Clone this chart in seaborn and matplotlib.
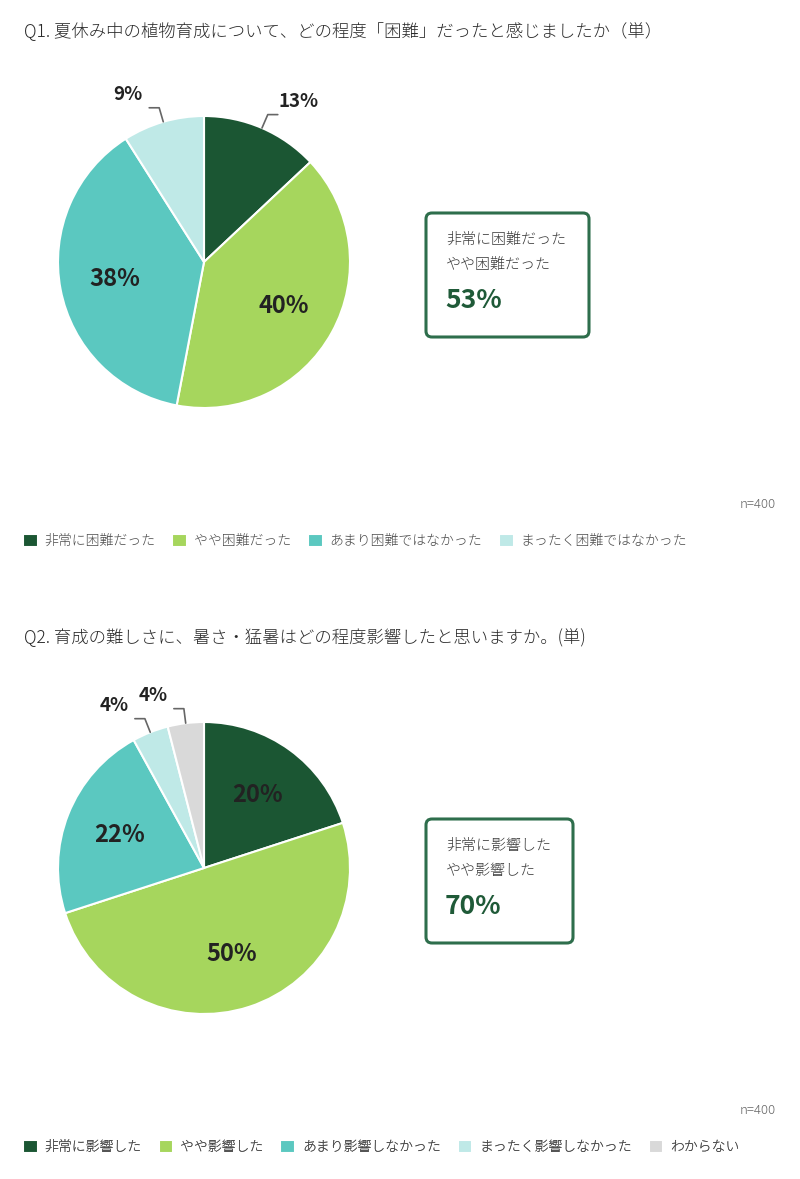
import seaborn as sns
import matplotlib.pyplot as plt
from matplotlib.patches import FancyBboxPatch
import numpy as np

# data
q1_title = "Q1. 夏休み中の植物育成について、どの程度「困難」だったと感じましたか（単）"
q1_labels = ["非常に困難だった", "やや困難だった", "あまり困難ではなかった", "まったく困難ではなかった"]
q1_values = [13, 40, 38, 9]
q1_box_lines = ["非常に困難だった", "やや困難だった"]
q1_box_value = "53%"

q2_title = "Q2. 育成の難しさに、暑さ・猛暑はどの程度影響したと思いますか。(単)"
q2_labels = ["非常に影響した", "やや影響した", "あまり影響しなかった", "まったく影響しなかった", "わからない"]
q2_values = [20, 50, 22, 4, 4]
q2_box_lines = ["非常に影響した", "やや影響した"]
q2_box_value = "70%"

n_text = "n=400"

colors = ["#1b5633", "#a6d65d", "#5bc8c0", "#bfe9e7", "#d9d9d9"]

sns.set_theme(style="white")
plt.rcParams['font.family'] = ['Noto Sans CJK JP', 'DejaVu Sans']

W, H = 800, 1179
fig = plt.figure(figsize=(8, 11.79), dpi=100)
ax = fig.add_axes([0, 0, 1, 1])


def draw_block(top, title, labels, values, box_lines, box_value, box_w, ncol):
    # top = pixel offset of this block
    ax.text(24, H - (top + 32), title, fontsize=12.5, color="#2a2a2a", va="center",
            ha="left", fontweight="light")

    cx, cy, r = 204, H - (top + 262), 146
    wedges, _ = ax.pie(values, colors=colors[:len(values)], startangle=90, counterclock=False,
                       radius=r, center=(cx, cy),
                       wedgeprops=dict(edgecolor="white", linewidth=1.5))

    for w, v in zip(wedges, values):
        th = np.deg2rad((w.theta1 + w.theta2) / 2)
        c, s = np.cos(th), np.sin(th)
        if v >= 15:
            ax.text(cx + 0.62 * r * c, cy + 0.62 * r * s, f"{v}%", fontsize=17,
                    fontweight="bold", color="#222222", ha="center", va="center")
        else:
            side = 1 if c > 0 else -1
            p0 = (cx + r * c, cy + r * s)
            p1 = (cx + 1.1 * r * c, cy + 1.1 * r * s)
            p2 = (p1[0] + side * 10, p1[1])
            ax.plot([p0[0], p1[0], p2[0]], [p0[1], p1[1], p2[1]], color="#666666", lw=1.2)
            ax.text(p2[0] + side * 21, p2[1] + 13, f"{v}%", fontsize=13.5,
                    fontweight="bold", color="#222222", ha="center", va="center")

    # summary box
    bx, by, bh = 426, top + 213, 124
    box = FancyBboxPatch((bx, H - (by + bh)), box_w, bh,
                         boxstyle="round,pad=0,rounding_size=6",
                         facecolor="white", edgecolor="#2e6e4c", lw=2.2)
    ax.add_patch(box)
    ax.text(bx + 20, H - (by + 27), box_lines[0], fontsize=10.8, color="#3a3a3a",
            va="center", fontweight="light")
    ax.text(bx + 20, H - (by + 52), box_lines[1], fontsize=10.8, color="#3a3a3a",
            va="center", fontweight="light")
    ax.text(bx + 19, H - (by + 88), box_value, fontsize=19, fontweight="bold",
            color="#1f5a38", va="center")

    ax.text(776, H - (top + 505), n_text, fontsize=9.5, color="#666666", ha="right",
            va="center", fontweight="light")

    leg = ax.legend(wedges, labels, loc="center left", bbox_to_anchor=(23, H - (top + 541)),
                    bbox_transform=ax.transData, ncol=ncol, frameon=False,
                    prop=dict(size=10, weight="light"),
                    handlelength=1.05, handleheight=1.15, handletextpad=0.5,
                    columnspacing=1.22, borderaxespad=0, borderpad=0, labelcolor="#4a4a4a")
    ax.add_artist(leg)


draw_block(0, q1_title, q1_labels, q1_values, q1_box_lines, q1_box_value, 163, 4)
draw_block(606, q2_title, q2_labels, q2_values, q2_box_lines, q2_box_value, 147, 5)

ax.set_xlim(0, W)
ax.set_ylim(0, H)
ax.set_aspect("equal")
ax.axis("off")

fig.savefig("out.png", dpi=100, facecolor="white")
